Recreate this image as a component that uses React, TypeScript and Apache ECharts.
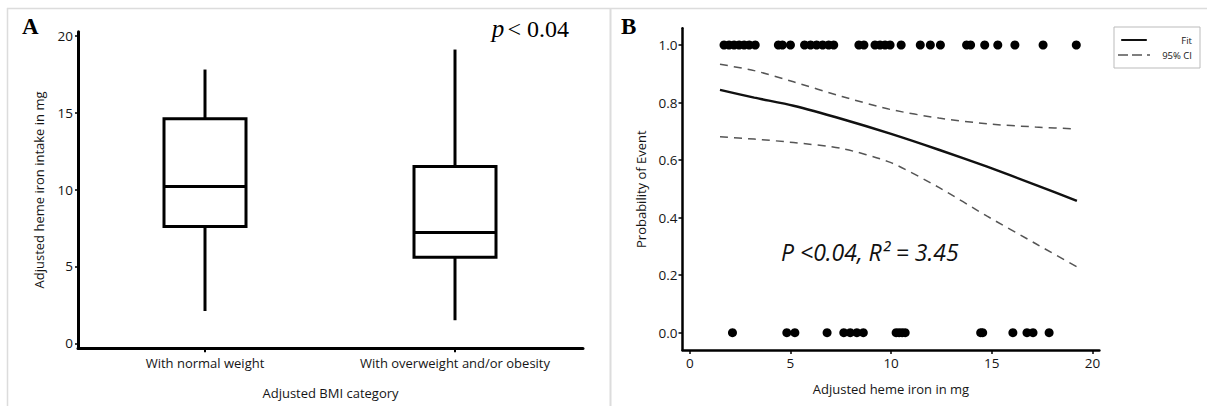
import React, { useEffect, useRef } from "react";
import * as echarts from "echarts";

// ---------- Panel A data ----------
const bmiCategories = ["With normal weight", "With overweight and/or obesity"];
// [min, Q1, median, Q3, max]
const boxNormal = [2.1, 7.6, 10.2, 14.6, 17.8];
const boxOver = [1.5, 5.6, 7.2, 11.5, 19.1];
const boxValues = [boxNormal, boxOver];
const yTicksA = [0, 5, 10, 15, 20];

// ---------- Panel B data ----------
const eventX = [
  1.7, 1.95, 2.2, 2.45, 2.7, 2.95, 3.25, 4.4, 4.6, 5.0, 5.7, 6.0, 6.3, 6.6, 6.9, 7.15,
  8.4, 8.65, 9.2, 9.45, 9.7, 9.95, 10.5, 11.45, 11.95, 12.45, 13.75, 13.95, 14.65,
  15.3, 16.15, 17.55, 19.2,
];
const noEventX = [
  2.12, 4.82, 5.22, 6.82, 7.65, 7.97, 8.3, 8.62, 10.25, 10.4, 10.55, 10.7, 14.45,
  14.55, 16.05, 16.75, 17.05, 17.85,
];
const curveX = [1.5, 3.2, 5.15, 7.56, 9.96, 12.37, 14.77, 17.17, 19.23];
const fitY = [0.844, 0.817, 0.789, 0.743, 0.692, 0.636, 0.577, 0.514, 0.458];
const upperY = [0.933, 0.911, 0.872, 0.821, 0.776, 0.746, 0.726, 0.715, 0.708];
const lowerY = [0.681, 0.673, 0.661, 0.64, 0.592, 0.505, 0.405, 0.31, 0.229];

const FONT = "'Open Sans', 'Noto Sans', sans-serif";
const SERIF = "'Liberation Serif', 'DejaVu Serif', serif";
const TXT = "#151515";

const FIT_ICON = "path://M0,0H32V2.5H0Z";
const CI_ICON = "path://M0,0H10V1.5H0Z M14,0H24V1.5H14Z M29,0H32V1.5H29Z";

const hiddenAxisParts = {
  axisTick: { show: false },
  axisLabel: { show: false },
  splitLine: { show: false },
};

export default function App() {
  const ref = useRef<HTMLDivElement>(null);

  useEffect(() => {
    if (!ref.current) return;
    const chart = echarts.init(ref.current, undefined, { renderer: "svg" });

    const boxData = boxValues.map((b, i) => [i, ...b]);
    const pair = (ys: number[]) => curveX.map((x, i) => [x, ys[i]]);

    const option: any = {
      animation: false,
      backgroundColor: "#fff",
      grid: [
        { left: 78, top: 31.7, width: 505, height: 316.6 },
        { left: 80, top: 35.7, width: 500, height: 307.6 },
        { left: 682.5, top: 28.3, width: 416.9, height: 321.7 },
        { left: 689.8, top: 45, width: 402.6, height: 287.7 },
      ],
      xAxis: [
        {
          gridIndex: 0, type: "value", min: 0, max: 1, ...hiddenAxisParts,
          axisLine: { show: true, onZero: false, lineStyle: { color: "#000", width: 3 } },
          name: "Adjusted BMI category", nameLocation: "middle", nameGap: 38,
          nameTextStyle: { fontFamily: FONT, fontSize: 13, color: TXT },
        },
        {
          gridIndex: 1, type: "category", data: bmiCategories, offset: 5,
          axisLine: { show: false, onZero: false },
          axisTick: { show: true, alignWithLabel: true, length: 4, lineStyle: { color: "#000", width: 2 } },
          axisLabel: { fontFamily: FONT, fontSize: 13, color: TXT, margin: 8 },
          splitLine: { show: false },
        },
        {
          gridIndex: 2, type: "value", min: 0, max: 1, ...hiddenAxisParts,
          axisLine: { show: true, onZero: false, lineStyle: { color: "#000", width: 2.5 } },
          name: "Adjusted heme iron in mg", nameLocation: "middle", nameGap: 32,
          nameTextStyle: { fontFamily: FONT, fontSize: 13, color: TXT },
        },
        {
          gridIndex: 3, type: "value", min: 0, max: 20, interval: 5, offset: 17.3,
          axisLine: { show: false, onZero: false },
          axisTick: { show: true, length: 4, lineStyle: { color: "#000", width: 1.5 } },
          axisLabel: { fontFamily: FONT, fontSize: 13.5, color: TXT, margin: 6 },
          splitLine: { show: false },
        },
      ],
      yAxis: [
        {
          gridIndex: 0, type: "value", min: 0, max: 1, ...hiddenAxisParts,
          axisLine: { show: true, onZero: false, lineStyle: { color: "#000", width: 3 } },
          name: "Adjusted heme iron intake in mg", nameLocation: "middle", nameGap: 33,
          nameTextStyle: { fontFamily: FONT, fontSize: 13, color: TXT },
        },
        {
          gridIndex: 1, type: "value", min: yTicksA[0], max: yTicksA[yTicksA.length - 1], interval: 5, offset: 2,
          axisLine: { show: false, onZero: false },
          axisTick: { show: true, length: 3, lineStyle: { color: "#000", width: 1.5 } },
          axisLabel: { fontFamily: FONT, fontSize: 13.5, color: TXT, margin: 5 },
          splitLine: { show: false },
        },
        {
          gridIndex: 2, type: "value", min: 0, max: 1, ...hiddenAxisParts,
          axisLine: { show: true, onZero: false, lineStyle: { color: "#000", width: 2.5 } },
          name: "Probability of Event", nameLocation: "middle", nameGap: 35,
          nameTextStyle: { fontFamily: FONT, fontSize: 13, color: TXT },
        },
        {
          gridIndex: 3, type: "value", min: 0, max: 1, interval: 0.2, offset: 7.3,
          axisLine: { show: false, onZero: false },
          axisTick: { show: true, length: 4, lineStyle: { color: "#000", width: 1.5 } },
          axisLabel: { fontFamily: FONT, fontSize: 13.5, color: TXT, margin: 5, formatter: (v: number) => v.toFixed(1) },
          splitLine: { show: false },
        },
      ],
      legend: {
        data: [
          { name: "Fit", icon: FIT_ICON },
          { name: "95% CI", icon: CI_ICON },
        ],
        orient: "vertical",
        left: 1114,
        top: 27,
        itemWidth: 32,
        itemHeight: 2,
        itemGap: 5,
        padding: [8, 8, 8, 4],
        borderColor: "#bbb",
        borderWidth: 1,
        selectedMode: false,
        formatter: (n: string) => `{t|${n}}`,
        textStyle: {
          fontFamily: FONT, fontSize: 9.5, color: TXT,
          rich: { t: { width: 37, align: "right", fontFamily: FONT, fontSize: 9.5, color: TXT, lineHeight: 11 } },
        },
      },
      series: [
        {
          type: "custom",
          name: "box",
          xAxisIndex: 1,
          yAxisIndex: 1,
          data: boxData,
          renderItem: (params: any, api: any) => {
            const idx = api.value(0);
            const lo = api.coord([idx, api.value(1)]);
            const q1 = api.coord([idx, api.value(2)]);
            const med = api.coord([idx, api.value(3)]);
            const q3 = api.coord([idx, api.value(4)]);
            const hi = api.coord([idx, api.value(5)]);
            const half = api.size([1, 0])[0] * 0.164;
            const cx = lo[0];
            const st = { stroke: "#000", lineWidth: 3, fill: "none" };
            return {
              type: "group",
              children: [
                { type: "line", shape: { x1: cx, y1: lo[1], x2: cx, y2: q1[1] }, style: st },
                { type: "line", shape: { x1: cx, y1: q3[1], x2: cx, y2: hi[1] }, style: st },
                {
                  type: "rect",
                  shape: { x: cx - half, y: q3[1], width: half * 2, height: q1[1] - q3[1] },
                  style: { stroke: "#000", lineWidth: 3, fill: "#fff" },
                },
                { type: "line", shape: { x1: cx - half, y1: med[1], x2: cx + half, y2: med[1] }, style: st },
              ],
            };
          },
        },
        {
          type: "scatter",
          name: "events",
          xAxisIndex: 3,
          yAxisIndex: 3,
          symbolSize: 9,
          itemStyle: { color: "#000", opacity: 1 },
          data: eventX.map((x) => [x, 1]),
        },
        {
          type: "scatter",
          name: "no events",
          xAxisIndex: 3,
          yAxisIndex: 3,
          symbolSize: 9,
          itemStyle: { color: "#000", opacity: 1 },
          data: noEventX.map((x) => [x, 0]),
        },
        {
          type: "line",
          name: "Fit",
          xAxisIndex: 3,
          yAxisIndex: 3,
          symbol: "none",
          showSymbol: false,
          smooth: 0.25,
          lineStyle: { color: "#111", width: 2.5 },
          itemStyle: { color: "#111" },
          data: pair(fitY),
        },
        {
          type: "line",
          name: "95% CI",
          xAxisIndex: 3,
          yAxisIndex: 3,
          symbol: "none",
          showSymbol: false,
          smooth: 0.25,
          lineStyle: { color: "#555", width: 1.5, type: [8, 6] },
          itemStyle: { color: "#555" },
          data: pair(upperY),
        },
        {
          type: "line",
          name: "95% CI",
          xAxisIndex: 3,
          yAxisIndex: 3,
          symbol: "none",
          showSymbol: false,
          smooth: 0.25,
          lineStyle: { color: "#555", width: 1.5, type: [8, 6] },
          itemStyle: { color: "#555" },
          data: pair(lowerY),
        },
      ],
      graphic: [
        { type: "line", shape: { x1: 7, y1: 8.5, x2: 1207, y2: 8.5 }, style: { stroke: "#dcdcdc", lineWidth: 1.5 } },
        { type: "line", shape: { x1: 7.5, y1: 8, x2: 7.5, y2: 406 }, style: { stroke: "#dcdcdc", lineWidth: 1.5 } },
        { type: "line", shape: { x1: 610.5, y1: 8, x2: 610.5, y2: 406 }, style: { stroke: "#dcdcdc", lineWidth: 2 } },
        {
          type: "text", left: 22, top: 15,
          style: { text: "A", font: `bold 23px ${SERIF}`, fill: "#000" },
        },
        {
          type: "text", left: 621, top: 15,
          style: { text: "B", font: `bold 23px ${SERIF}`, fill: "#000" },
        },
        {
          type: "text", right: 1207 - 569, top: 16,
          style: {
            text: "{p|p} {n|< 0.04}",
            rich: {
              p: { fontFamily: SERIF, fontStyle: "italic", fontSize: 25, fill: "#000" },
              n: { fontFamily: SERIF, fontSize: 24, fill: "#000" },
            },
          },
        },
        {
          type: "text", left: 781, top: 240,
          style: {
            text: "P <0.04, R² = 3.45",
            font: `italic 23px ${FONT}`,
            fill: "#111",
          },
        },
      ],
    };

    chart.setOption(option);
    return () => chart.dispose();
  }, []);

  return (
    <div
      ref={ref}
      style={{ position: "absolute", left: 0, top: 0, width: 1207, height: 406, background: "#fff" }}
    />
  );
}
